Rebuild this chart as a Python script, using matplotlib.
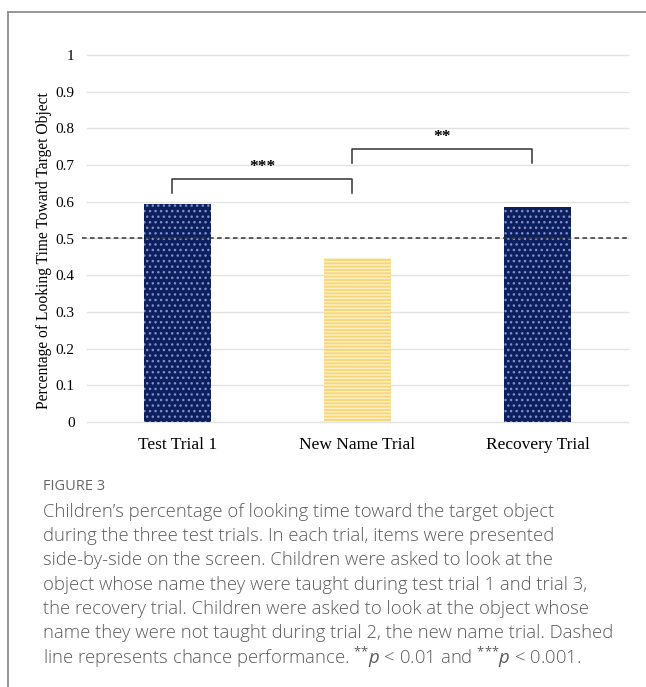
import matplotlib.pyplot as plt
from matplotlib.lines import Line2D

# Looking-time proportions per trial
trials = ["Test Trial 1", "New Name Trial", "Recovery Trial"]
looking_time = [0.595, 0.447, 0.587]
chance = 0.5
y_ticks = [0, 0.1, 0.2, 0.3, 0.4, 0.5, 0.6, 0.7, 0.8, 0.9, 1]
y_tick_labels = ["0", "0.1", "0.2", "0.3", "0.4", "0.5", "0.6", "0.7", "0.8", "0.9", "1"]

# Significance brackets: (left trial, right trial, height, stars)
comparisons = [(0, 1, 0.662, "***"), (1, 2, 0.744, "**")]

caption_lines = [
    "Children\u2019s percentage of looking time toward the target object",
    "during the three test trials. In each trial, items were presented",
    "side-by-side on the screen. Children were asked to look at the",
    "object whose name they were taught during test trial 1 and trial 3,",
    "the recovery trial. Children were asked to look at the object whose",
    "name they were not taught during trial 2, the new name trial. Dashed",
    r"line represents chance performance. $^{{*}{*}}p$ < 0.01 and $^{{*}{*}{*}}p$ < 0.001.",
]

plt.rcParams['hatch.linewidth'] = 1.0
plt.rcParams['mathtext.fontset'] = 'custom'
plt.rcParams['mathtext.rm'] = 'Open Sans'
plt.rcParams['mathtext.it'] = 'Open Sans:italic'

W, H = 646, 687
fig = plt.figure(figsize=(W / 100, H / 100), dpi=100)

ax = fig.add_axes([87 / W, 1 - 422 / H, 541 / W, 367 / H])
ax.set_xlim(-0.5, 2.5)
ax.set_ylim(0, 1)

for y in y_ticks:
    ax.axhline(y, color="#e2e2e2", linewidth=1, zorder=0, clip_on=False)

serif = "Liberation Serif"
x = range(len(trials))
colors = ["#0c1f5e", "#f6d77a", "#0c1f5e"]
hatches = ["...", "-----", "..."]
hatch_colors = ["#8191c6", "#fcf0c8", "#8191c6"]
for i in x:
    ax.bar(i, looking_time[i], width=0.37, color=colors[i], hatch=hatches[i],
           edgecolor=hatch_colors[i], linewidth=0, zorder=2)

ax.axhline(chance, xmin=-0.01, xmax=1, color="#333333", linestyle=(0, (3, 2.2)),
           linewidth=1.1, zorder=3, clip_on=False)

for a, b, h, stars in comparisons:
    xa, xb = a - 0.03, b - 0.03
    ax.plot([xa, xa, xb, xb], [h - 0.039, h, h, h - 0.039], color="#333333",
            linewidth=1.1, zorder=3, clip_on=False)
    ax.text((xa + xb) / 2, h + 0.012, stars, ha="center", va="bottom",
            fontsize=12.5, fontweight="bold", family=serif)

ax.set_yticks(y_ticks)
ax.set_yticklabels(y_tick_labels, family=serif, fontsize=11)
ax.set_xticks(list(x))
ax.set_xticklabels(trials, family=serif, fontsize=12.5)
ax.tick_params(length=0)
ax.tick_params(axis="x", pad=11)
ax.tick_params(axis="y", pad=9)
for s in ax.spines.values():
    s.set_visible(False)
ax.set_ylabel("Percentage of Looking Time Toward Target Object", family=serif,
              fontsize=11.2, va="center")
ax.yaxis.set_label_coords((44 - 87) / 541, (422 - 251) / 367)

# Caption below the chart
fig.text(43 / W, 1 - 487 / H, "FIGURE 3", family="Open Sans", fontsize=10.5,
         color="#666666", va="center")
for k, line in enumerate(caption_lines):
    fig.text(43 / W, 1 - (512 + 24.2 * k) / H, line, family="Open Sans",
             fontsize=13.3, fontweight="light", color="#5a5a5a", va="center")

# Panel frame
fig.add_artist(Line2D([8 / W, 8 / W], [0, 1 - 12 / H], color="#8c8c8c",
                      linewidth=1.3, transform=fig.transFigure))
fig.add_artist(Line2D([8 / W, 1], [1 - 12 / H, 1 - 12 / H], color="#8c8c8c",
                      linewidth=1.3, transform=fig.transFigure))

fig.savefig("out.png", dpi=100)
